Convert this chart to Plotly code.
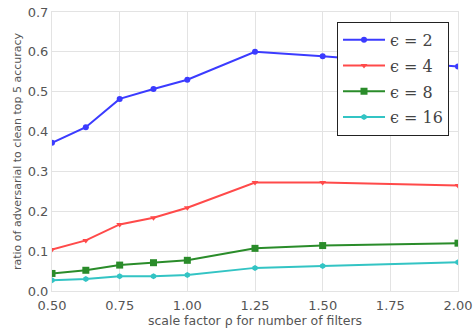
import plotly.graph_objects as go

x = [0.5, 0.625, 0.75, 0.875, 1.0, 1.25, 1.5, 2.0]
eps2 = [0.372, 0.411, 0.482, 0.507, 0.530, 0.600, 0.589, 0.563]
eps4 = [0.104, 0.127, 0.167, 0.184, 0.209, 0.272, 0.272, 0.265]
eps8 = [0.044, 0.052, 0.065, 0.071, 0.077, 0.107, 0.114, 0.120]
eps16 = [0.027, 0.030, 0.037, 0.037, 0.040, 0.058, 0.063, 0.072]
names = ["ϵ = 2", "ϵ = 4", "ϵ = 8", "ϵ = 16"]
xticks = [0.5, 0.75, 1.0, 1.25, 1.5, 1.75, 2.0]
yticks = [0.0, 0.1, 0.2, 0.3, 0.4, 0.5, 0.6, 0.7]

series = [eps2, eps4, eps8, eps16]
colors = ["#3b3bff", "#ff4a4a", "#2a8c2a", "#33c4c4"]
symbols = ["circle", "triangle-down", "square", "hexagon"]
sizes = [6, 6, 7, 6]

fig = go.Figure()
for i, (ys, nm, c, s, sz) in enumerate(zip(series, names, colors, symbols, sizes)):
    fig.add_trace(go.Scatter(x=x, y=ys, name=nm, mode="lines+markers",
                             legendgroup=f"g{i}",
                             line=dict(color=c, width=2),
                             marker=dict(color=c, symbol=s, size=sz)))

axis_common = dict(showgrid=True, gridcolor="#e3e3e3", gridwidth=1,
                   showline=True, linecolor="#e3e3e3", mirror=True,
                   zeroline=False, ticks="", automargin=False,
                   tickfont=dict(family="DejaVu Sans", size=13, color="#555555"))
fig.update_layout(
    width=474, height=332,
    margin=dict(l=52, r=16, t=12, b=41),
    paper_bgcolor="white", plot_bgcolor="white",
    xaxis=dict(range=[0.5, 2.0], tickvals=xticks,
               ticktext=[f"{v:.2f}" for v in xticks],
               ticklabelstandoff=2,
               title=dict(text="scale factor ρ for number of filters",
                          font=dict(family="DejaVu Sans", size=12.5, color="#555555"),
                          standoff=2),
               **axis_common),
    yaxis=dict(range=[0.0, 0.7], tickvals=yticks,
               ticktext=[f"{v:.1f}" for v in yticks],
               title=dict(text="ratio of adversarial to clean top 5 accuracy",
                          font=dict(family="DejaVu Sans", size=11, color="#555555"),
                          standoff=3),
               **axis_common),
    legend=dict(x=0.702, y=0.965, xanchor="left", yanchor="top",
                bgcolor="white", bordercolor="#222222", borderwidth=1,
                font=dict(family="DejaVu Serif", size=16, color="#444444"),
                traceorder="grouped", tracegroupgap=2, itemwidth=42),
    showlegend=True,
)
fig.write_html("out.html", config={"displayModeBar": False},
               post_script="document.body.style.margin='0';")
